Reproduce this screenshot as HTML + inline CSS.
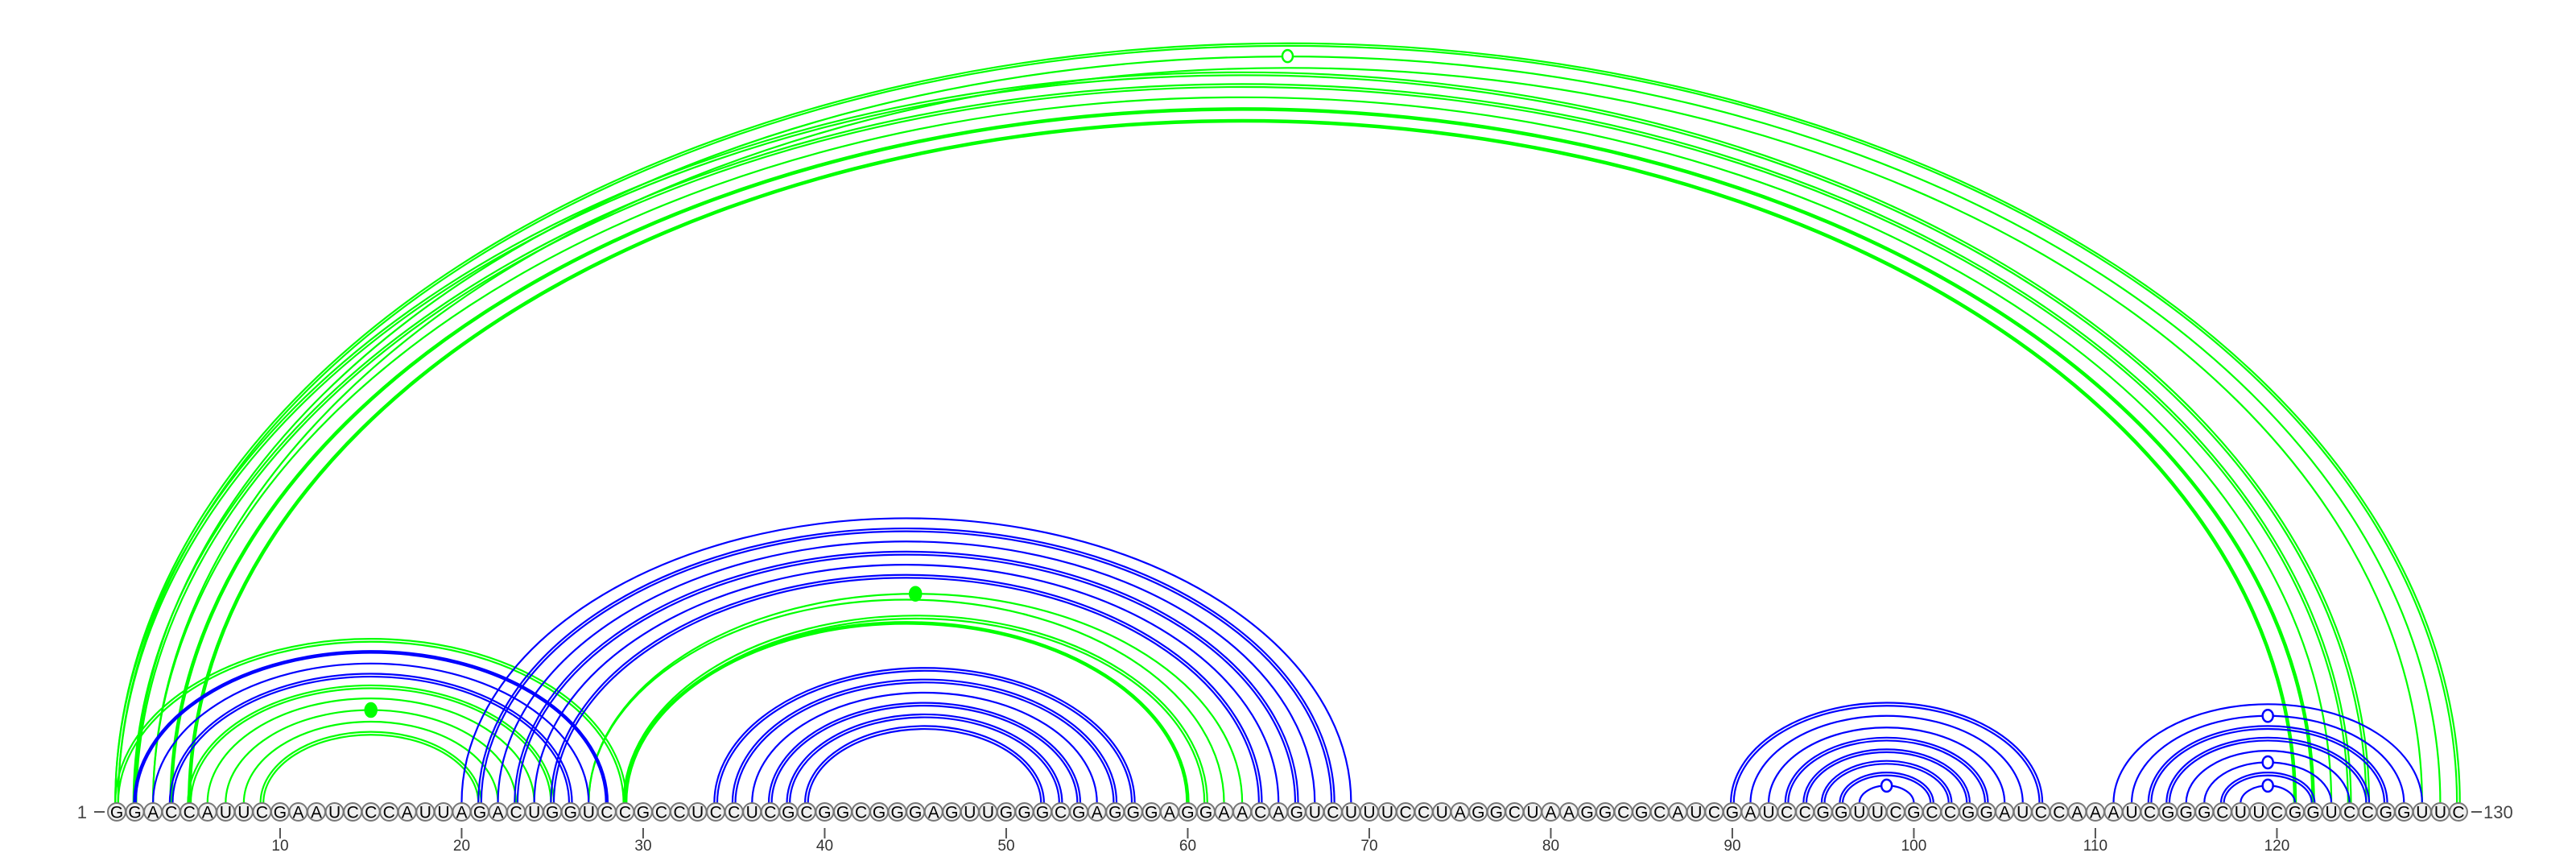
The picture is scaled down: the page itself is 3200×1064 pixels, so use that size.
<!DOCTYPE html>
<html><head><meta charset="utf-8"><title>RNA arc diagram</title>
<style>
html,body{margin:0;padding:0;background:#fff;}
svg{display:block;}
text{font-family:"Liberation Sans",sans-serif;}
</style></head>
<body>
<svg id="chart" width="3200" height="1064" viewBox="0 0 3200 1064" xmlns="http://www.w3.org/2000/svg">
<g id="arcs"></g>
<g id="nts"></g>
<g id="axis"></g>
</svg>
<script>
const sequence = "GGACCAUUCGAAUCCCAUUAGACUGGUCCGCCUCCUCGCGGCGGGAGUUGGGCGAGGGAGGAACAGUCUUUCCUAGGCUAAGGCGCAUCGAUCCGGUUCGCCGGAUCCAAAUCGGGCUUCGGUCCGGUUC";
// pairs: [i, j, lineStyle(1 single, 2 double, 3 thick)]
const greenPairs = [
  [1,130,2],[2,129,1],[3,128,1],[1,125,2],[2,124,2],[3,123,1],[4,122,3],[5,121,3],
  [1,29,2],[5,25,2],[6,24,1],[7,23,1],[8,22,1],[9,21,2],
  [29,60,3],[29,61,2],[27,62,1],[27,63,1]
];
const bluePairs = [
  [2,28,3],[3,27,1],[4,26,2],
  [20,69,1],[21,68,2],[22,67,1],[23,66,2],[24,65,1],[25,64,2],
  [34,57,2],[35,56,2],[36,55,1],[37,54,2],[38,53,2],[39,52,2],
  [90,107,2],[91,106,1],[92,105,1],[93,104,2],[94,103,2],[95,102,2],[96,101,2],[97,100,1],
  [111,128,1],[112,127,1],[113,126,2],[114,125,2],[115,124,1],[116,123,1],[117,122,2],[118,121,1]
];
// markers: [i, j, color, filled]
const markerPairs = [[2,129,"green",0],[7,23,"green",1],[27,63,"green",1],[97,100,"blue",0],[112,127,"blue",0],[116,123,"blue",0],[118,121,"blue",0]];
const tickPositions = [10,20,30,40,50,60,70,80,90,100,110,120];

const NS = "http://www.w3.org/2000/svg";
const X0 = 145, STEP = 22.55, BASE = 997, CY = 1008;
const COLORS = {green:"#00ff00", blue:"#0000ff"};
function xPos(p){ return X0 + (p-1)*STEP; }
function ratio(span){ return span > 100 ? 0.3238 : 0.32; }
function mk(tag, attrs, parent){
  const el = document.createElementNS(NS, tag);
  for (const k in attrs) el.setAttribute(k, attrs[k]);
  parent.appendChild(el);
  return el;
}
const arcs = document.getElementById("arcs");
function arcPath(x1, x2, ry){
  const rx = (x2-x1)/2;
  return "M"+x1+" "+BASE+" A"+rx+" "+ry+" 0 0 1 "+x2+" "+BASE;
}
function drawPair(pr, color){
  const x1 = xPos(pr[0]), x2 = xPos(pr[1]);
  const ry = (x2-x1)*ratio(pr[1]-pr[0]);
  const style = pr[2];
  if (style === 2){
    [-1.8, 1.8].forEach(function(o){
      const p = mk("path", {d: arcPath(x1+o, x2-o, ry-o), fill:"none", stroke:COLORS[color], "stroke-width":2.2}, arcs);
      
      
    });
  } else {
    const p = mk("path", {d: arcPath(x1, x2, ry), fill:"none", stroke:COLORS[color], "stroke-width": style===3?4.5:2.2}, arcs);
    
    
  }
}
greenPairs.forEach(function(p){ drawPair(p, "green"); });
bluePairs.forEach(function(p){ drawPair(p, "blue"); });
markerPairs.forEach(function(m){
  const x1 = xPos(m[0]), x2 = xPos(m[1]);
  const ry = (x2-x1)*ratio(m[1]-m[0]);
  const e = mk("ellipse", {cx:(x1+x2)/2, cy:BASE-ry, rx:m[3]?7:6.5, ry:m[3]?8.5:7.5,
    fill: m[3]?COLORS[m[2]]:"#ffffff", stroke:COLORS[m[2]], "stroke-width":2.5}, arcs);
  
  
});

const nts = document.getElementById("nts");
for (let i = 0; i < sequence.length; i++){
  const x = xPos(i+1);
  const c = mk("circle", {cx:x, cy:CY, r:11, fill:"#f0f0f0", stroke:"#777", "stroke-width":2}, nts);
  
  
  const t = mk("text", {x:x, y:CY+7.5, "text-anchor":"middle", "font-size":21, fill:"#000"}, nts);
  
  
  t.textContent = sequence[i];
}

const axis = document.getElementById("axis");
tickPositions.forEach(function(p){
  const x = xPos(p);
  const l = mk("line", {x1:x, x2:x, y1:1028, y2:1041, stroke:"#555", "stroke-width":2}, axis);
  
  
  const t = mk("text", {x:x, y:1056, "text-anchor":"middle", "font-size":19, fill:"#333"}, axis);
  
  
  t.textContent = p;
});
const s = mk("text", {x:108, y:1016, "text-anchor":"end", "font-size":22, fill:"#444"}, axis);


s.textContent = "1";
const sd = mk("line", {x1:117, x2:130, y1:1008, y2:1008, stroke:"#555", "stroke-width":2}, axis);


const ed = mk("line", {x1:3070, x2:3083, y1:1008, y2:1008, stroke:"#555", "stroke-width":2}, axis);


const e = mk("text", {x:3085, y:1016, "font-size":22, fill:"#444"}, axis);


e.textContent = "130";
</script>
</body></html>
